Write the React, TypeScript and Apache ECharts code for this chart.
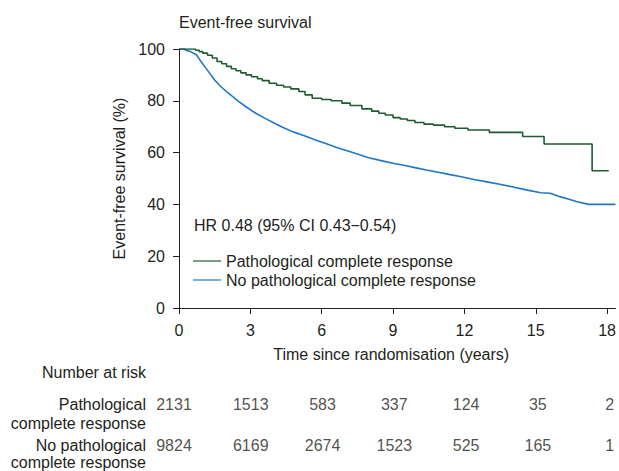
import React, { useEffect, useRef } from "react";
import * as echarts from "echarts";

// Kaplan–Meier estimates (time in years, survival in %)
const pcrCurve: [number, number][] = [
  [0, 100], [0.55, 100], [0.7, 99.5], [0.85, 99], [1.0, 98.4], [1.2, 97.6], [1.4, 96.5],
  [1.6, 95.2], [1.8, 94.3], [2.0, 93.3], [2.2, 92.4], [2.4, 91.6], [2.6, 90.8], [2.82, 90.0],
  [3.05, 89.3], [3.3, 88.5], [3.5, 87.8], [3.79, 86.8], [4.1, 86.0], [4.4, 85.3], [4.7, 84.6],
  [5.04, 83.6], [5.3, 82.3], [5.6, 81.0], [6.0, 80.5], [6.4, 80.0], [6.85, 79.1], [7.2, 78.2],
  [7.69, 76.9], [8.1, 76.0], [8.4, 75.2], [8.67, 74.5], [9.0, 73.5], [9.3, 73.0], [9.6, 72.4],
  [9.92, 71.6], [10.3, 71.0], [10.7, 70.6], [11.17, 70.0], [11.6, 69.4], [12.15, 68.7],
  [13.05, 67.8], [14.45, 66.2], [15.35, 63.3], [17.37, 53.0], [18.07, 53.0],
];

const noPcrCurve: [number, number][] = [
  [0, 100], [0.2, 100], [0.3, 99.5], [0.5, 98.9], [0.73, 97.8], [0.9, 95.5], [1.1, 93.0],
  [1.3, 90.5], [1.49, 88.1], [1.7, 86.0], [2.0, 83.5], [2.26, 81.6], [2.5, 79.8], [2.8, 77.8],
  [3.23, 75.2], [3.6, 73.3], [4.0, 71.4], [4.35, 69.8], [4.8, 68.0], [5.3, 66.4], [5.74, 64.9],
  [6.2, 63.4], [6.6, 62.1], [7.0, 60.9], [7.5, 59.5], [7.97, 58.0], [8.5, 56.9], [9.0, 55.9],
  [9.5, 55.0], [9.92, 54.2], [10.4, 53.3], [10.9, 52.4], [11.4, 51.5], [11.87, 50.7],
  [12.4, 49.6], [13.0, 48.6], [13.54, 47.7], [14.0, 46.8], [14.6, 45.6], [15.21, 44.5],
  [15.6, 44.3], [16.05, 42.9], [16.4, 42.0], [16.74, 41.0], [17.23, 40.0], [18.35, 40.0],
];

const xTicks = [0, 3, 6, 9, 12, 15, 18];
const yTicks = [0, 20, 40, 60, 80, 100];

const riskTimes = [0, 3, 6, 9, 12, 15, 18];
const riskPcr = [2131, 1513, 583, 337, 124, 35, 2];
const riskNoPcr = [9824, 6169, 2674, 1523, 525, 165, 1];

const seriesNames = ["Pathological complete response", "No pathological complete response"];
const riskLabelLines = [
  ["Pathological", "complete response"],
  ["No pathological", "complete response"],
];

const FONT = "Liberation Sans, Arial, sans-serif";
const FS = 16;
const TXT = "#231f20";
const GREEN = "#1d5c32";
const BLUE = "#1f77c6";

export default function App() {
  const ref = useRef<HTMLDivElement>(null);

  useEffect(() => {
    if (!ref.current) return;
    const chart = echarts.init(ref.current, undefined, { renderer: "svg" });

    const axisBase = {
      axisLine: { lineStyle: { color: TXT, width: 1 } },
      axisTick: { lineStyle: { color: TXT }, length: 6 },
      axisLabel: { color: TXT, fontSize: FS, fontFamily: FONT },
      splitLine: { show: false },
    };

    const sideText = (text: string, y: number) => ({
      type: "text",
      x: 146,
      y,
      style: {
        text,
        fontSize: FS,
        fill: TXT,
        fontFamily: FONT,
        align: "right",
        verticalAlign: "middle",
      },
    });

    const riskLabel = {
      show: true,
      position: "inside",
      formatter: (p: any) => String(p.value[2]),
      fontSize: FS,
      color: TXT,
      fontFamily: FONT,
    };

    const riskData = (row: number, counts: number[]) =>
      riskTimes.map((t, i) => ({
        value: [t, row, counts[i]],
        label: i === 0 ? { offset: [-5, 0] } : undefined,
      }));

    chart.setOption({
      animation: false,
      backgroundColor: "#ffffff",
      textStyle: { fontFamily: FONT },
      title: {
        text: "Event-free survival",
        left: 179,
        top: 14,
        padding: 0,
        textStyle: { fontSize: FS, fontWeight: "normal", color: TXT, fontFamily: FONT },
      },
      legend: {
        orient: "vertical",
        left: 193,
        top: 253,
        padding: 0,
        icon: "rect",
        itemWidth: 28,
        itemHeight: 1.2,
        itemGap: 3,
        data: seriesNames,
        textStyle: { fontSize: FS, color: TXT, fontFamily: FONT },
      },
      grid: [
        { left: 179, width: 439, top: 49, bottom: 163, containLabel: false },
        { left: 179, width: 439, top: 404, height: 41, containLabel: false },
      ],
      xAxis: [
        {
          ...axisBase,
          type: "value",
          gridIndex: 0,
          min: 0,
          max: 18.35,
          interval: 3,
          axisTick: { ...axisBase.axisTick, customValues: xTicks },
          axisLabel: { ...axisBase.axisLabel, margin: 14, customValues: xTicks },
          name: "Time since randomisation (years)",
          nameLocation: "middle",
          nameGap: 38,
          nameTextStyle: { fontSize: FS, color: TXT, fontFamily: FONT, padding: [0, 12, 0, 0] },
        },
        { type: "value", gridIndex: 1, min: 0, max: 18.35, show: false },
      ],
      yAxis: [
        {
          ...axisBase,
          type: "value",
          gridIndex: 0,
          min: 0,
          max: 100,
          interval: 20,
          axisTick: { ...axisBase.axisTick, customValues: yTicks },
          axisLabel: { ...axisBase.axisLabel, margin: 14, customValues: yTicks },
          name: "Event-free survival (%)",
          nameLocation: "middle",
          nameGap: 46,
          nameTextStyle: { fontSize: FS, color: TXT, fontFamily: FONT },
        },
        { type: "value", gridIndex: 1, min: 0, max: 1, show: false },
      ],
      series: [
        {
          name: seriesNames[0],
          type: "line",
          xAxisIndex: 0,
          yAxisIndex: 0,
          step: "end",
          symbol: "none",
          data: pcrCurve,
          lineStyle: { color: GREEN, width: 1.6 },
          itemStyle: { color: GREEN },
          z: 3,
        },
        {
          name: seriesNames[1],
          type: "line",
          xAxisIndex: 0,
          yAxisIndex: 0,
          symbol: "none",
          data: noPcrCurve,
          lineStyle: { color: BLUE, width: 1.6 },
          itemStyle: { color: BLUE },
          z: 2,
        },
        {
          name: "risk-pcr",
          type: "scatter",
          xAxisIndex: 1,
          yAxisIndex: 1,
          symbolSize: 1,
          itemStyle: { color: "transparent" },
          silent: true,
          data: riskData(1, riskPcr),
          label: riskLabel,
        },
        {
          name: "risk-nopcr",
          type: "scatter",
          xAxisIndex: 1,
          yAxisIndex: 1,
          symbolSize: 1,
          itemStyle: { color: "transparent" },
          silent: true,
          data: riskData(0, riskNoPcr),
          label: riskLabel,
        },
      ],
      graphic: [
        {
          type: "text",
          left: 194,
          top: 217,
          style: { text: "HR 0.48 (95% CI 0.43\u22120.54)", fontSize: FS, fill: TXT, fontFamily: FONT },
        },
        sideText("Number at risk", 372),
        sideText(riskLabelLines[0][0], 404),
        sideText(riskLabelLines[0][1], 423),
        sideText(riskLabelLines[1][0], 445),
        sideText(riskLabelLines[1][1], 462.5),
      ],
    });

    return () => chart.dispose();
  }, []);

  return <div ref={ref} style={{ width: 619, height: 471, position: "absolute", left: 0, top: 0 }} />;
}
